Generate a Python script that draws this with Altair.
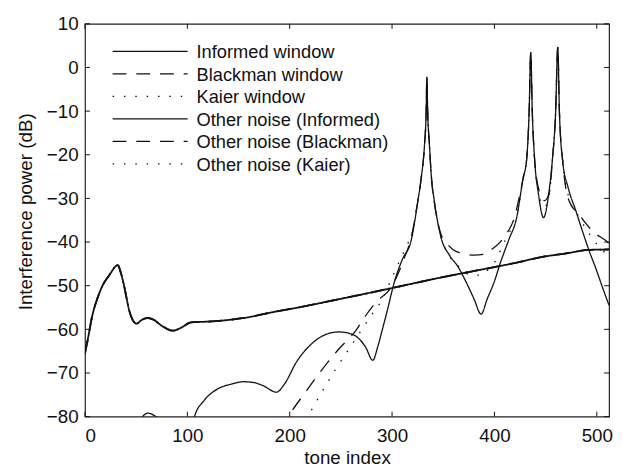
import altair as alt
import pandas as pd

# ---- data ----
noise_x = [0, 3, 7, 12, 16.7, 24, 32, 35, 37.6, 44, 50.4, 55, 61.7, 67, 75, 85.8, 95, 103.5,
           122.7, 155, 187, 206, 250, 302.8, 340, 383, 420, 447, 470, 492.4, 512]
noise_y = [-65.5, -62, -57, -53, -50.2, -47.5, -45.3, -47, -49.4, -56.3, -58.7, -57.9, -57.4,
           -57.8, -59.2, -60.3, -59.5, -58.4, -58.2, -57.4, -55.9, -55.1, -53, -50.4, -48.5,
           -46.5, -44.8, -43.4, -42.6, -41.8, -41.7]

inf_x = [48, 55, 61.7, 68, 72, 80, 95, 104, 107, 116.4, 129.2, 142, 155, 165, 174, 187, 195,
         206.3, 222.4, 235, 248, 258, 266, 274, 281.2, 286, 290, 295, 302.8, 310, 318.8, 325.2,
         328.5, 331.7, 333.3, 334, 334.8, 336.5, 338.5, 341.3, 347.8, 356, 364, 372, 380, 387,
         393, 400, 405.6, 414, 421.7, 428.1, 431.3, 433.9, 435.5, 437, 439.4, 443, 448, 453,
         456.5, 459.8, 461.9, 463.5, 466.7, 472, 479.5, 486, 492.4, 499, 505.3, 512]
inf_y = [-83, -80.3, -79.2, -79.8, -80.5, -84, -88, -83, -80, -76.3, -73.7, -72.6, -72, -72.2,
         -72.9, -74.4, -72.5, -67.6, -63.1, -61.2, -60.6, -60.9, -61.8, -64, -67.1, -64, -60.5,
         -56, -48.7, -44, -39.5, -30.6, -25.3, -17.7, -10.2, -2.2, -10.2, -17.7, -25.3, -30.6,
         -38.9, -43, -45.5, -49, -53, -56.5, -53, -49, -44.9, -39.5, -34.4, -25.3, -21.5,
         -10.2, 3.4, -10.2, -21.5, -29, -34.4, -29, -21.5, -10.2, 4.6, -10.2, -21.5, -27.5,
         -32.8, -37.5, -41.9, -46, -50.2, -54.5]

bm_x = [190, 198.3, 215, 232, 248, 264.2, 273.8, 283.5, 299.6, 312.4, 318.8, 322, 325.2, 328.5,
        331.7, 333.3, 334, 334.8, 336.5, 338.5, 341.3, 347.8, 352.6, 360, 367, 380, 390, 396,
        405.6, 412, 418.5, 424, 428.1, 431.3, 433.9, 435.5, 437, 439.4, 444, 449, 453.8, 456.5,
        459.8, 461.9, 463.5, 466.7, 473, 482, 492.4, 500, 508.5, 512]
bm_y = [-83, -80, -74.5, -69.1, -64.5, -60.4, -57, -54, -50.2, -43.4, -38.9, -35, -30.6, -25.3,
        -17.7, -10.2, -2.2, -10.2, -17.7, -25.3, -31, -38.2, -40, -41.8, -42.5, -43, -42.8,
        -41.9, -40, -38, -35.1, -30, -25.3, -21.5, -10.2, 3.4, -10.2, -21.5, -28.5, -30.5,
        -28.5, -21.5, -10.2, 4.6, -10.2, -21.5, -30.6, -33.5, -36.6, -38.3, -39.6, -40.3]

ka_x = [210, 217.6, 231, 245, 257.7, 270.6, 280, 290, 299.6, 308, 315, 319, 322, 325.2, 328.5,
        331.7, 333.3, 334, 334.8, 336.5, 338.5, 341.3, 347.8, 352, 360, 367.7, 376.7, 387, 395,
        402.4, 407.2, 414, 421.7, 428.1, 431.3, 433.9, 435.5, 437, 439.4, 444, 448.5, 453.5,
        456.5, 459.8, 461.9, 463.5, 466.7, 473, 482, 492.4, 500, 508, 512]
ka_y = [-83, -80, -74.5, -69.1, -64.6, -60, -56.7, -53.3, -48.3, -44, -40.5, -38.5, -35, -30.6,
        -25.3, -17.7, -10.2, -2.2, -10.2, -17.7, -25.3, -30.6, -38.9, -41.5, -44.5, -46, -47.6,
        -47.6, -46, -43.8, -41.2, -38, -34.4, -25.3, -21.5, -10.2, 3.4, -10.2, -21.5, -29.5,
        -32, -29.5, -21.5, -10.2, 4.6, -10.2, -21.5, -30, -34, -38, -40.5, -42.5, -43.5]

window_names = ["Informed window", "Blackman window", "Kaier window"]
noise_names = ["Other noise (Informed)", "Other noise (Blackman)", "Other noise (Kaier)"]
legend_labels = window_names + noise_names

x_ticks = [0, 100, 200, 300, 400, 500]
y_ticks = [-80, -70, -60, -50, -40, -30, -20, -10, 0, 10]

# ---- styling ----
W, H = 531, 398
FONT = "Liberation Sans"
INK = "#111111"
dash_styles = [[1, 0], [14, 10], [1.5, 10]]

rows = []
for name, xs_, ys_ in zip(window_names, [inf_x, bm_x, ka_x], [inf_y, bm_y, ka_y]):
    rows += [{"x": a, "y": b, "series": name} for a, b in zip(xs_, ys_)]
win_df = pd.DataFrame(rows)
rows = []
for name in noise_names:
    rows += [{"x": a, "y": b, "series": name} for a, b in zip(noise_x, noise_y)]
noise_df = pd.DataFrame(rows)

xs = alt.Scale(domain=[0, 512], nice=False, zero=False)
ys = alt.Scale(domain=[-80, 10], nice=False, zero=False)
x_axis = alt.Axis(values=x_ticks, ticks=False, domain=False, grid=False, labelPadding=10,
                  title="tone index", titleY=47, titleBaseline="alphabetic", format="d")
y_axis = alt.Axis(values=y_ticks, ticks=False, domain=False, grid=False, labelPadding=7,
                  title="Interference power (dB)", titleAngle=-90, titleX=-54, titleY=190,
                  titleBaseline="alphabetic", titleAlign="center", format="d")

dash_scale = alt.Scale(domain=legend_labels, range=dash_styles + dash_styles)

windows = alt.Chart(win_df).mark_line(clip=True, strokeWidth=1.3, color=INK,
                                      interpolate="monotone").encode(
    x=alt.X("x:Q", scale=xs, axis=x_axis),
    y=alt.Y("y:Q", scale=ys, axis=y_axis),
    strokeDash=alt.StrokeDash("series:N", scale=dash_scale, legend=None),
    detail="series:N",
)
noise = alt.Chart(noise_df).mark_line(clip=True, strokeWidth=1.8, color=INK,
                                      interpolate="monotone").encode(
    x=alt.X("x:Q", scale=xs, axis=x_axis),
    y=alt.Y("y:Q", scale=ys, axis=y_axis),
    strokeDash=alt.StrokeDash("series:N", scale=dash_scale, legend=None),
    detail="series:N",
)

# inward ticks on all four sides
xt = pd.DataFrame({"t": x_ticks})
yt = pd.DataFrame({"t": y_ticks})
TL = 5
tick_layers = [
    alt.Chart(xt).mark_rule(color=INK, strokeWidth=1).encode(
        x=alt.X("t:Q", scale=xs, axis=x_axis), y=alt.value(H), y2=alt.value(H - TL)),
    alt.Chart(xt).mark_rule(color=INK, strokeWidth=1).encode(
        x=alt.X("t:Q", scale=xs, axis=x_axis), y=alt.value(0), y2=alt.value(TL)),
    alt.Chart(yt).mark_rule(color=INK, strokeWidth=1).encode(
        y=alt.Y("t:Q", scale=ys, axis=y_axis), x=alt.value(0), x2=alt.value(TL)),
    alt.Chart(yt).mark_rule(color=INK, strokeWidth=1).encode(
        y=alt.Y("t:Q", scale=ys, axis=y_axis), x=alt.value(W), x2=alt.value(W - TL)),
]

# manual legend (top-left, inside the plot)
legend_layers = []
for i, lab in enumerate(legend_labels):
    yy = 28 + i * 22.8
    dash = dash_styles[i % 3]
    ldf = pd.DataFrame({"label": [lab]})
    legend_layers.append(
        alt.Chart(ldf).mark_rule(color=INK, strokeWidth=1.3, strokeDash=dash).encode(
            x=alt.value(28), x2=alt.value(104), y=alt.value(yy)))
    legend_layers.append(
        alt.Chart(ldf).mark_text(align="left", baseline="middle", font=FONT, fontSize=18.5,
                                 color=INK).encode(
            text="label:N", x=alt.value(113), y=alt.value(yy + 1)))

chart = alt.layer(noise, windows, *tick_layers, *legend_layers).properties(
    width=W, height=H,
    padding={"left": 78, "top": 13, "right": 5, "bottom": 48},
    autosize="none",
).configure_view(stroke="#222222", strokeWidth=1.2).configure_axis(
    labelFont=FONT, labelFontSize=19, labelColor=INK,
    titleFont=FONT, titleFontSize=19, titleFontWeight="normal", titleColor=INK,
)

chart.save("out.html", embed_options={"renderer": "svg", "actions": False})
